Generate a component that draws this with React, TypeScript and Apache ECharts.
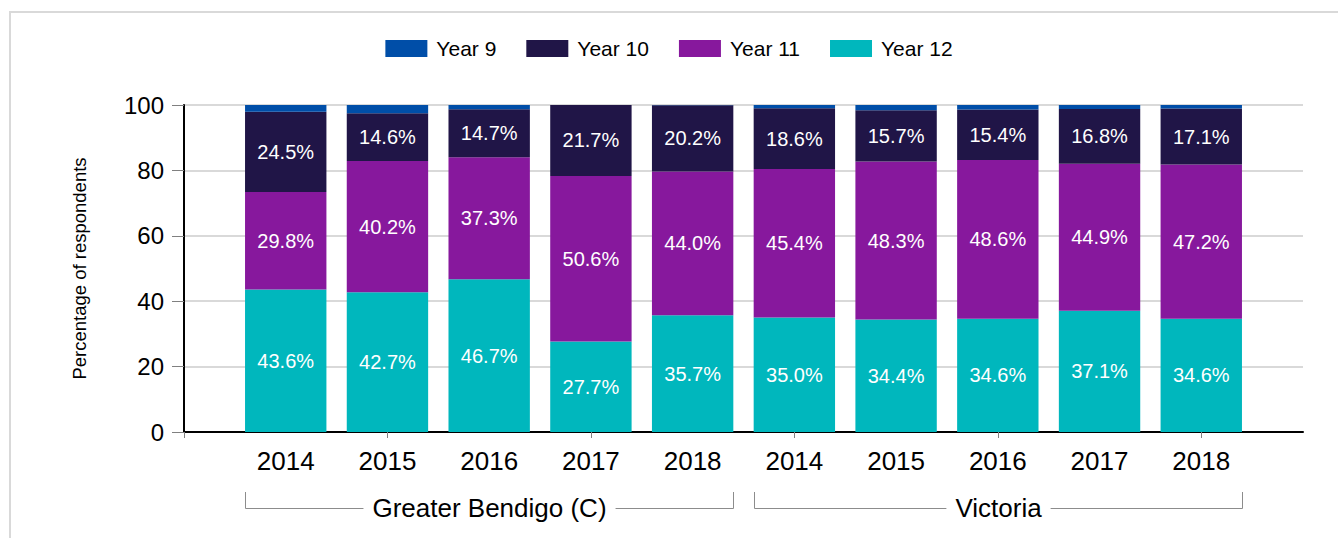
import React, { useEffect, useRef } from "react";
import * as echarts from "echarts";

const categories = ["", "2014", "2015", "2016", "2017", "2018", "2014", "2015", "2016", "2017", "2018", ""];
const year12 = [43.6, 42.7, 46.7, 27.7, 35.7, 35.0, 34.4, 34.6, 37.1, 34.6];
const year11 = [29.8, 40.2, 37.3, 50.6, 44.0, 45.4, 48.3, 48.6, 44.9, 47.2];
const year10 = [24.5, 14.6, 14.7, 21.7, 20.2, 18.6, 15.7, 15.4, 16.8, 17.1];
const year9 = [2.1, 2.5, 1.3, 0, 0.1, 1.0, 1.6, 1.4, 1.2, 1.1];
const legendNames = ["Year 9", "Year 10", "Year 11", "Year 12"];
const groups = [
  { name: "Greater Bendigo (C)", from: 1, to: 5 },
  { name: "Victoria", from: 6, to: 10 },
];
const yTicks = { min: 0, max: 100, interval: 20 };

const COLORS: Record<string, string> = {
  "Year 9": "#004EA8",
  "Year 10": "#201547",
  "Year 11": "#87189D",
  "Year 12": "#00B7BD",
};

const FONT = "Liberation Sans, Arial, sans-serif";

const pad = (arr: number[]) => ["-", ...arr, "-"] as any[];

export default function App() {
  const ref = useRef<HTMLDivElement>(null);
  useEffect(() => {
    document.body.style.margin = "0";
    if (!ref.current) return;
    const chart = echarts.init(ref.current, null, { renderer: "svg" });
    const mk = (name: string, data: number[], showLabel: boolean) => ({
      name,
      type: "bar",
      stack: "total",
      barWidth: "80%",
      data: pad(data),
      itemStyle: { color: COLORS[name] },
      label: {
        show: showLabel,
        position: "inside",
        color: "#fff",
        fontSize: 20,
        fontFamily: FONT,
        formatter: (p: any) => Number(p.value).toFixed(1) + "%",
      },
    });
    chart.setOption({
      animation: false,
      textStyle: { fontFamily: FONT },
      legend: {
        data: legendNames,
        top: 33,
        left: "center",
        itemWidth: 42,
        itemHeight: 17,
        itemGap: 30,
        icon: "rect",
        textStyle: { fontSize: 21, color: "#000", fontFamily: FONT, padding: [0, 0, 0, 4] },
      },
      grid: { left: 184, right: 35, top: 105, bottom: 106, containLabel: false },
      xAxis: {
        type: "category",
        data: categories,
        boundaryGap: false,
        axisLine: { show: true, lineStyle: { color: "#000", width: 2 } },
        axisTick: {
          show: true,
          interval: (i: number) => i % 2 === 0 && i < categories.length - 1,
          length: 6,
          lineStyle: { color: "#808080" },
        },
        axisLabel: { interval: 0, fontSize: 26, color: "#000", margin: 16, fontFamily: FONT },
        splitLine: { show: false },
      },
      yAxis: {
        type: "value",
        min: yTicks.min,
        max: yTicks.max,
        interval: yTicks.interval,
        name: "Percentage of respondents",
        nameLocation: "middle",
        nameGap: 95,
        nameRotate: 90,
        nameTextStyle: { fontSize: 18.5, color: "#000", fontFamily: FONT },
        axisLine: { show: true, lineStyle: { color: "#000", width: 2 } },
        axisTick: { show: true, length: 12, lineStyle: { color: "#808080" } },
        axisLabel: { fontSize: 24, color: "#000", margin: 20, fontFamily: FONT },
        splitLine: { show: true, lineStyle: { color: "#d9d9d9", width: 2 } },
      },
      series: [
        mk("Year 12", year12, true),
        mk("Year 11", year11, true),
        mk("Year 10", year10, true),
        mk("Year 9", year9, false),
      ],
    });

    const x0 = chart.convertToPixel({ xAxisIndex: 0 }, 0) as number;
    const xN = chart.convertToPixel({ xAxisIndex: 0 }, categories.length - 1) as number;
    const band = (xN - x0) / (categories.length - 1);
    const half = band * 0.4;
    const graphics: any[] = [
      {
        type: "rect",
        shape: { x: 10, y: 12, width: 1500, height: 700 },
        style: { fill: "none", stroke: "#d9d9d9", lineWidth: 2 },
        silent: true,
      },
    ];
    groups.forEach((g) => {
      const L = Math.round((chart.convertToPixel({ xAxisIndex: 0 }, g.from) as number) - half) + 0.5;
      const R = Math.round((chart.convertToPixel({ xAxisIndex: 0 }, g.to) as number) + half) + 0.5;
      graphics.push({
        type: "polyline",
        shape: { points: [[L, 492], [L, 508.5], [R, 508.5], [R, 492]] },
        style: { fill: "none", stroke: "#8c8c8c", lineWidth: 1 },
        silent: true,
      });
      graphics.push({
        type: "text",
        x: (L + R) / 2,
        y: 508,
        style: {
          text: g.name,
          fontSize: 26,
          fontFamily: FONT,
          fill: "#000",
          align: "center",
          verticalAlign: "middle",
          backgroundColor: "#fff",
          padding: [0, 9],
        },
        silent: true,
      });
    });
    chart.setOption({ graphic: graphics });
    return () => chart.dispose();
  }, []);
  return <div ref={ref} style={{ width: 1338, height: 538 }} />;
}
